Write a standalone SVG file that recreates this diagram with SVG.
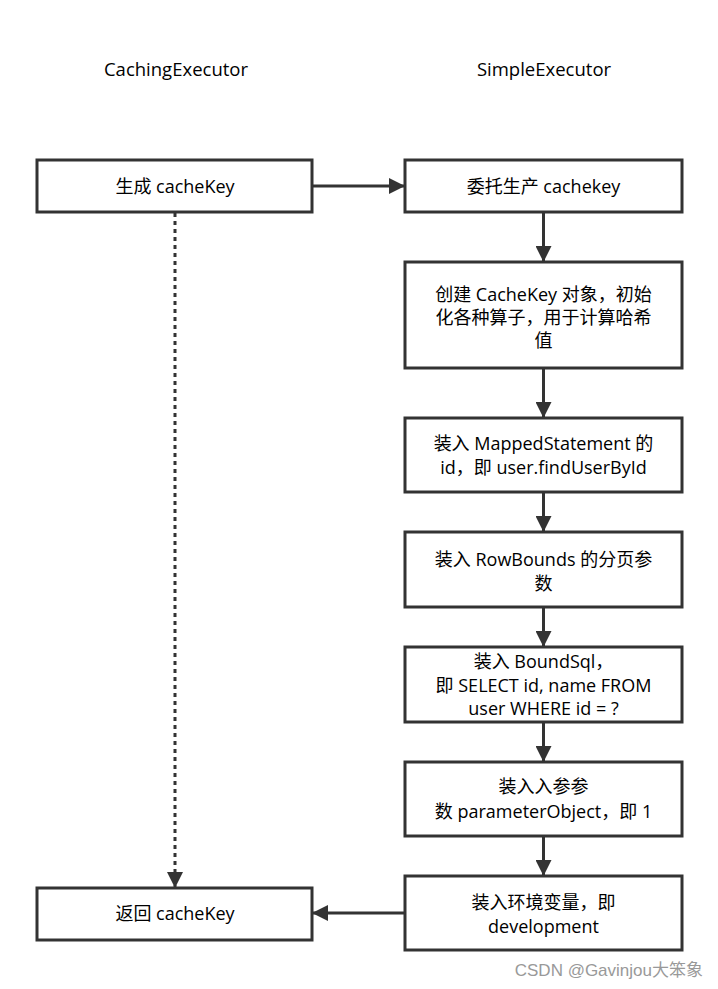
<svg xmlns="http://www.w3.org/2000/svg" width="718" height="989" viewBox="0 0 718 989">
<defs>
<style>
.box{fill:#fff;stroke:#333;stroke-width:3}
.t{font-family:"Open Sans","Noto Sans CJK SC","Microsoft YaHei",sans-serif;font-size:18px;fill:#000;text-anchor:middle}
.h{font-family:"Open Sans","Noto Sans CJK SC",sans-serif;font-size:18.5px;fill:#000;text-anchor:middle}
.line{stroke:#333;stroke-width:3;fill:none}
.wm{font-family:"Liberation Sans","Noto Sans CJK SC",sans-serif;font-size:17px;fill:#999;text-anchor:end}
</style>
<marker id="ah" markerWidth="16" markerHeight="16" viewBox="0 0 16 16" refX="15" refY="8" orient="auto" markerUnits="userSpaceOnUse">
<path d="M0,0 L16,8 L0,16 z" fill="#333"/>
</marker>
</defs>
<rect width="718" height="989" fill="#fff"/>
<text class="h" x="176" y="76">CachingExecutor</text>
<text class="h" x="544" y="76">SimpleExecutor</text>

<g id="connectors">
<line class="line" x1="313" y1="186" x2="404" y2="186" marker-end="url(#ah)"/>
<line class="line" x1="175" y1="213" x2="175" y2="887" stroke-dasharray="4 4" marker-end="url(#ah)"/>
<line class="line" x1="543.5" y1="213" x2="543.5" y2="261" marker-end="url(#ah)"/>
<line class="line" x1="543.5" y1="369" x2="543.5" y2="417" marker-end="url(#ah)"/>
<line class="line" x1="543.5" y1="493" x2="543.5" y2="531" marker-end="url(#ah)"/>
<line class="line" x1="543.5" y1="608" x2="543.5" y2="646" marker-end="url(#ah)"/>
<line class="line" x1="543.5" y1="723" x2="543.5" y2="761" marker-end="url(#ah)"/>
<line class="line" x1="543.5" y1="837" x2="543.5" y2="875" marker-end="url(#ah)"/>
<line class="line" x1="404" y1="913" x2="313" y2="913" marker-end="url(#ah)"/>
</g>

<g id="gen"><rect class="box" x="37" y="160" width="275" height="52"/><text class="t" x="175" y="193">生成 cacheKey</text></g>
<g id="delegate"><rect class="box" x="405" y="160" width="277" height="52"/><text class="t" x="543.5" y="193">委托生产 cachekey</text></g>
<g id="create"><rect class="box" x="405" y="262" width="277" height="106"/>
<text class="t"><tspan x="543.5" y="301">创建 CacheKey 对象，初始</tspan><tspan x="543.5" y="324">化各种算子，用于计算哈希</tspan><tspan x="543.5" y="347">值</tspan></text></g>
<g id="mapped"><rect class="box" x="405" y="418" width="277" height="74"/>
<text class="t"><tspan x="543.5" y="450">装入 MappedStatement 的</tspan><tspan x="543.5" y="474">id，即 user.findUserById</tspan></text></g>
<g id="rowbounds"><rect class="box" x="405" y="532" width="277" height="75"/>
<text class="t"><tspan x="543.5" y="566">装入 RowBounds 的分页参</tspan><tspan x="543.5" y="590">数</tspan></text></g>
<g id="boundsql"><rect class="box" x="405" y="647" width="277" height="75"/>
<text class="t"><tspan x="543.5" y="668">装入 BoundSql，</tspan><tspan x="543.5" y="692">即 SELECT id, name FROM</tspan><tspan x="543.5" y="715">user WHERE id = ?</tspan></text></g>
<g id="param"><rect class="box" x="405" y="762" width="277" height="74"/>
<text class="t"><tspan x="543.5" y="793">装入入参参</tspan><tspan x="543.5" y="818">数 parameterObject，即 1</tspan></text></g>
<g id="env"><rect class="box" x="405" y="876" width="277" height="74"/>
<text class="t"><tspan x="543.5" y="909">装入环境变量，即</tspan><tspan x="543.5" y="933">development</tspan></text></g>
<g id="ret"><rect class="box" x="37" y="888" width="275" height="52"/><text class="t" x="175" y="920">返回 cacheKey</text></g>

<text class="wm" x="703" y="976">CSDN @Gavinjou大笨象</text>
</svg>
